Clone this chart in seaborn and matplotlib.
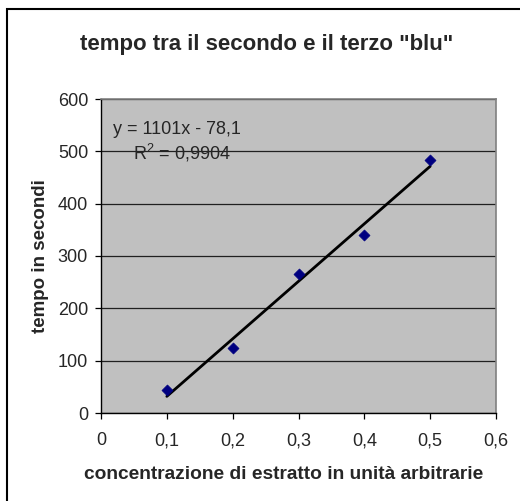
import matplotlib
matplotlib.use("Agg")
import matplotlib.pyplot as plt
import seaborn as sns
import pandas as pd
from matplotlib.patches import Rectangle

concentrazione = [0.1, 0.2, 0.3, 0.4, 0.5]
tempo = [43, 124, 266, 341, 484]
x_ticks = [0, 0.1, 0.2, 0.3, 0.4, 0.5, 0.6]
x_tick_labels = ["0", "0,1", "0,2", "0,3", "0,4", "0,5", "0,6"]
y_ticks = [0, 100, 200, 300, 400, 500, 600]
y_tick_labels = ["0", "100", "200", "300", "400", "500", "600"]

title = 'tempo tra il secondo e il terzo "blu"'
xlabel = "concentrazione di estratto in unità arbitrarie"
ylabel = "tempo in secondi"
eq_text = "y = 1101x - 78,1"
r2_text = "R$^2$ = 0,9904"

df = pd.DataFrame({"x": concentrazione, "y": tempo})

sns.set_theme(style="white")
plt.rcParams['font.family'] = ['Liberation Sans', 'DejaVu Sans']
plt.rcParams['mathtext.fontset'] = 'custom'
plt.rcParams['mathtext.rm'] = 'Liberation Sans'

W, H = 520, 501
fig = plt.figure(figsize=(W/100, H/100), dpi=100)
fig.patch.set_facecolor("white")
ax = fig.add_axes([101/W, 1-413/H, (496-101)/W, (413-99)/H])
ax.set_facecolor("#C0C0C0")

# outer frame
fig.patches.append(Rectangle((7/W, -0.1), 1.2, (H-9)/H + 0.1,
                             transform=fig.transFigure, fill=False,
                             edgecolor="black", lw=1.5, zorder=0))

ax.set_xlim(0, 0.6)
ax.set_ylim(0, 600)
ax.set_xticks(x_ticks)
ax.set_xticklabels(x_tick_labels)
ax.set_yticks(y_ticks)
ax.set_yticklabels(y_tick_labels)
ax.yaxis.grid(True, color="#202020", lw=0.9)
ax.set_axisbelow(True)

sns.regplot(data=df, x="x", y="y", ax=ax, scatter=False, ci=None, truncate=True,
            line_kws=dict(color="black", lw=2, zorder=3))
sns.scatterplot(data=df, x="x", y="y", ax=ax, marker="D", color="#000080",
                edgecolor="#000080", s=32, zorder=4, legend=False)

for s in ["left", "bottom"]:
    ax.spines[s].set_color("black")
    ax.spines[s].set_linewidth(1.0)
for s in ["top", "right"]:
    ax.spines[s].set_color("#808080")
    ax.spines[s].set_linewidth(1.2)

ax.tick_params(axis="both", which="both", direction="out", length=4.3, width=0.9,
               color="black", labelsize=13, left=True, bottom=True)
ax.tick_params(axis="x", pad=9.5)
ax.tick_params(axis="y", pad=5)

ax.set_xlabel(xlabel, fontsize=13.8, fontweight="bold")
ax.xaxis.set_label_coords((284-101)/395, (413-479)/314)
ax.xaxis.label.set_va("baseline")
ax.set_ylabel(ylabel, fontsize=13.5, fontweight="bold")
ax.yaxis.set_label_coords((40-101)/395, 0.5)
ax.yaxis.label.set_va("center")

fig.text(266.5/W, 1-50/H, title, ha="center", va="baseline",
         fontsize=16, fontweight="bold")

fig.text(113/W, 1-134/H, eq_text, ha="left", va="baseline", fontsize=13)
fig.text(133/W, 1-160/H, r2_text, ha="left", va="baseline", fontsize=13)

fig.savefig("out.png", dpi=100)
